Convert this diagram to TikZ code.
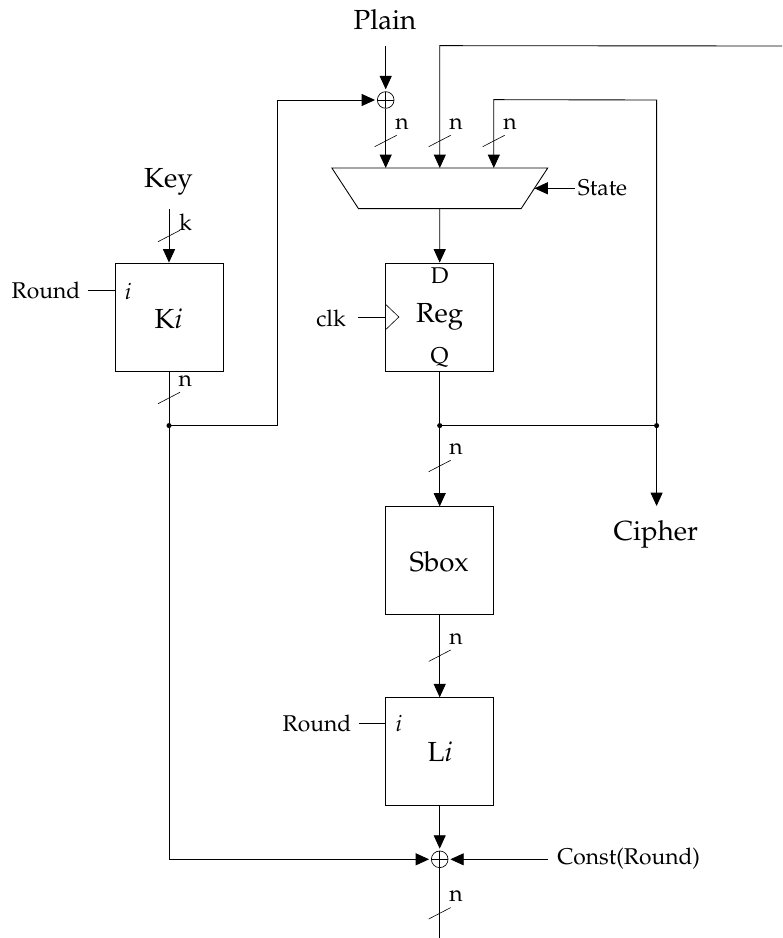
\documentclass[tikz,border=0pt]{standalone}
\usepackage[T1]{fontenc}
\usepackage{mathpazo}
\usetikzlibrary{arrows.meta,calc,positioning,shapes.geometric}

\tikzset{
  wire/.style={line width=0.65pt},
  blockbox/.style={draw, line width=0.65pt, minimum size=81pt, inner sep=0pt},
  xornode/.style={draw, circle, line width=0.5pt, minimum size=12.5pt, inner sep=0pt,
    path picture={\draw[line width=0.5pt] (path picture bounding box.north) -- (path picture bounding box.south)
      (path picture bounding box.west) -- (path picture bounding box.east);}},
  bignode/.style={inner sep=0pt, font=\fontsize{20.7}{24}\selectfont},
  smallnode/.style={inner sep=0pt, font=\fontsize{17.1}{20}\selectfont},
  junction/.style={circle, fill=black, inner sep=0pt, minimum size=3.8pt},
  busslash/.style={line width=0.45pt}
}

\begin{document}
\begin{tikzpicture}[x=0.75pt, y=-0.75pt, >={Triangle[length=10pt,width=9pt]}]
\useasboundingbox (0,0) rectangle (782,938);

\node[blockbox] (ki) at (169,317) {};
\node[blockbox] (reg) at (439.7,317) {};
\node[blockbox, below=101.25pt of reg] (sbox) {};
\node[blockbox, below=61.5pt of sbox] (li) {};
\node[draw, line width=0.65pt, trapezium, shape border rotate=180,
      trapezium angle=56.8, inner xsep=61pt, inner ysep=15.25pt, outer sep=0pt] (mux) at (439.8,188.3) {};

\node[xornode] (xortop) at (385.7,100) {};
\node[xornode] (xorbot) at (439.7,859.3) {};

\node[bignode] (plain) at (385,20) {Plain};
\node[bignode] (key) at (168.5,181.5) {Key};
\node[bignode] (cipher) at (655.8,534) {Cipher};
\node[bignode] (kilabel) at (168.5,319) {K\textit{i}};
\node[bignode] (reglabel) at (439.7,317) {Reg};
\node[bignode] (sboxlabel) at (439.2,561.7) {Sbox};
\node[bignode] (lilabel) at (440,751.7) {L\textit{i}};

\node[smallnode] (dlabel) at (439.7,276) {D};
\node[smallnode] (qlabel) at (439.7,357.5) {Q};
\node[smallnode] (ilabelk) at (128,291) {\textit{i}};
\node[smallnode] (ilabell) at (398.7,723.5) {\textit{i}};
\node[smallnode, anchor=east] (roundk) at (80.5,290) {Round};
\node[smallnode, anchor=east] (roundl) at (351.5,723.5) {Round};
\node[smallnode, anchor=east] (clk) at (346,318) {clk};
\node[smallnode, anchor=west] (state) at (577.7,188.3) {State};
\node[smallnode, anchor=west] (const) at (557,858.5) {Const(Round)};

\coordinate (plainin) at (385.7,46);
\coordinate (feedin) at (782,46);
\coordinate (keyin) at (169,209);
\coordinate (out) at (439.7,938);
\node[junction] (jki) at (169,425.6) {};
\node[junction] (jreg) at (439.7,425.6) {};
\node[junction] (jfeed) at (656.6,425.6) {};

% data path
\draw[wire,->,shorten >=1.5pt] (plainin) -- (xortop.north);
\draw[wire,->] (xortop.south) -- ($(mux.north)+(-54.1,0)$);
\draw[wire,->] (feedin) -- ($(mux.north)+(0,-122.3)$) -- (mux.north);
\draw[wire,->] (jfeed.center) -- (656.6,100) -- ($(mux.north)+(54,-68.3)$) -- ($(mux.north)+(54,0)$);
\draw[wire,->] (mux.south) -- (reg.north);
\draw[wire] (reg.south) -- (jreg.center);
\draw[wire,->] (jreg.center) -- (sbox.north);
\draw[wire,->] (sbox.south) -- (li.north);
\draw[wire,->,shorten >=1.5pt] (li.south) -- (xorbot.north);
\draw[wire] (xorbot.south) -- (out);
\draw[wire] (jreg.center) -- (jfeed.center);
\draw[wire,->] (jfeed.center) -- (656.6,506);

% key path
\draw[wire,->] (keyin) -- (ki.north);
\draw[wire] (ki.south) -- (jki.center);
\draw[wire,->,shorten >=1.5pt] (jki.center) -- (277.3,425.6) -- (277.3,100) -- (xortop.west);
\draw[wire,->,shorten >=1.5pt] (jki.center) -- (169,859.3) -- (xorbot.west);

% control
\draw[wire,->] (state.west) ++(-2.7,0) -- (mux.east);
\draw[wire,->,shorten >=1.5pt] ($(const.west)+(-9.3,0.8)$) -- (xorbot.east);
\draw[wire] ($(roundk.east)+(7.2,0)$) -- (ki.west |- roundk.east);
\draw[wire] ($(roundl.east)+(7.2,0)$) -- (li.west |- roundl.east);
\draw[wire] (358.3,317) -- (reg.west);
\draw[line width=0.45pt] ($(reg.west)+(0,-13)$) -- ($(reg.west)+(13.6,0)$) -- ($(reg.west)+(0,13)$);

% bus widths
\coordinate (slashplain) at (385.7,141);
\coordinate (slashfeed) at (439.7,141);
\coordinate (slashloop) at (493.7,141);
\coordinate (slashkey) at (169,236);
\coordinate (slashki) at (169,398);
\coordinate (slashreg) at (439.7,466);
\coordinate (slashsbox) at (439.7,655.7);
\coordinate (slashout) at (439.7,913.3);

\draw[busslash] ($(slashplain)+(-11,5.7)$) -- ($(slashplain)+(11,-5.7)$);
\draw[busslash] ($(slashfeed)+(-11,5.7)$) -- ($(slashfeed)+(11,-5.7)$);
\draw[busslash] ($(slashloop)+(-11,5.7)$) -- ($(slashloop)+(11,-5.7)$);
\draw[busslash] ($(slashkey)+(-11,5.7)$) -- ($(slashkey)+(11,-5.7)$);
\draw[busslash] ($(slashki)+(-11,5.7)$) -- ($(slashki)+(11,-5.7)$);
\draw[busslash] ($(slashreg)+(-11,5.7)$) -- ($(slashreg)+(11,-5.7)$);
\draw[busslash] ($(slashsbox)+(-11,5.7)$) -- ($(slashsbox)+(11,-5.7)$);
\draw[busslash] ($(slashout)+(-11,5.7)$) -- ($(slashout)+(11,-5.7)$);

\node[smallnode] (nplain) at ($(slashplain)+(16.3,-17)$) {n};
\node[smallnode] (nfeed) at ($(slashfeed)+(16.3,-17)$) {n};
\node[smallnode] (nloop) at ($(slashloop)+(16.3,-17)$) {n};
\node[smallnode] (kkey) at ($(slashkey)+(16.5,-14)$) {k};
\node[smallnode] (nki) at ($(slashki)+(16.3,-17)$) {n};
\node[smallnode] (nreg) at ($(slashreg)+(16.3,-17)$) {n};
\node[smallnode] (nsbox) at ($(slashsbox)+(16.3,-17)$) {n};
\node[smallnode] (nout) at ($(slashout)+(16.3,-17)$) {n};
\end{tikzpicture}
\end{document}
